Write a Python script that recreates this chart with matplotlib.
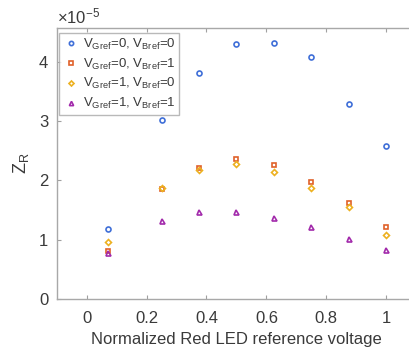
import matplotlib
matplotlib.use("Agg")
import matplotlib.pyplot as plt
import numpy as np
from matplotlib.ticker import FuncFormatter

plt.rcParams["font.family"] = ["Liberation Sans", "DejaVu Sans"]
plt.rcParams["mathtext.default"] = "regular"

# normalized red LED reference voltage
v_red = [0.07, 0.25, 0.375, 0.5, 0.625, 0.75, 0.875, 1.0]

# Z_R for each green/blue reference combination
z_g0_b0 = [1.18e-5, 3.02e-5, 3.82e-5, 4.30e-5, 4.32e-5, 4.08e-5, 3.30e-5, 2.59e-5]
z_g0_b1 = [0.81e-5, 1.85e-5, 2.21e-5, 2.36e-5, 2.26e-5, 1.98e-5, 1.62e-5, 1.22e-5]
z_g1_b0 = [0.96e-5, 1.875e-5, 2.18e-5, 2.28e-5, 2.15e-5, 1.88e-5, 1.55e-5, 1.08e-5]
z_g1_b1 = [0.78e-5, 1.32e-5, 1.47e-5, 1.47e-5, 1.37e-5, 1.21e-5, 1.01e-5, 0.82e-5]

labels = [
    "V$_{Gref}$=0, V$_{Bref}$=0",
    "V$_{Gref}$=0, V$_{Bref}$=1",
    "V$_{Gref}$=1, V$_{Bref}$=0",
    "V$_{Gref}$=1, V$_{Bref}$=1",
]
series = [z_g0_b0, z_g0_b1, z_g1_b0, z_g1_b1]
markers = ["o", "s", "D", "^"]
colors = ["#3f6fd8", "#e0612a", "#edb120", "#a22aab"]
sizes = [3.6, 3.0, 3.0, 3.6]

fig = plt.figure(figsize=(4.09, 3.47), dpi=100)
ax = fig.add_axes([0.1386, 0.139, 0.879, 0.779])

for y, m, c, s, lab in zip(series, markers, colors, sizes, labels):
    ax.plot(v_red, y, linestyle="none", marker=m, markersize=s,
            markerfacecolor="none", markeredgecolor=c, markeredgewidth=1.2,
            label=lab)

ax.set_xlim(-0.1, 1.1)
ax.set_ylim(0, 4.57e-5)
ax.set_xticks([0, 0.2, 0.4, 0.6, 0.8, 1])
ax.set_xticklabels(["0", "0.2", "0.4", "0.6", "0.8", "1"])
ax.set_yticks(np.arange(0, 5) * 1e-5)
ax.yaxis.set_major_formatter(FuncFormatter(lambda v, _: f"{v / 1e-5:g}"))

ax.tick_params(direction="in", length=3, width=0.8, colors="#a0a0a0",
               labelcolor="#3a3a3a", labelsize=12, top=True, right=True)
ax.tick_params(axis="x", pad=9)
ax.tick_params(axis="y", pad=6)
for sp in ax.spines.values():
    sp.set_color("#a8a8a8")
    sp.set_linewidth(1.0)

ax.set_xlabel("Normalized Red LED reference voltage", fontsize=12,
              color="#3a3a3a", labelpad=4)
ax.set_ylabel("Z$_R$", fontsize=13, color="#3a3a3a", labelpad=6)
ax.text(0.0, 1.008, "×10$^{-5}$", transform=ax.transAxes, fontsize=12,
        color="#3a3a3a", ha="left", va="bottom")

leg = ax.legend(loc="upper left", bbox_to_anchor=(0.006, 0.982), fontsize=9.5,
                frameon=True, fancybox=False, borderpad=0.25, labelspacing=0.36,
                handletextpad=0.3, handlelength=1.3, borderaxespad=0.0,
                markerscale=0.85)
leg.get_frame().set_edgecolor("#a8a8a8")
leg.get_frame().set_linewidth(1.0)
for t in leg.get_texts():
    t.set_color("#3a3a3a")

fig.savefig("out.png", dpi=100)
